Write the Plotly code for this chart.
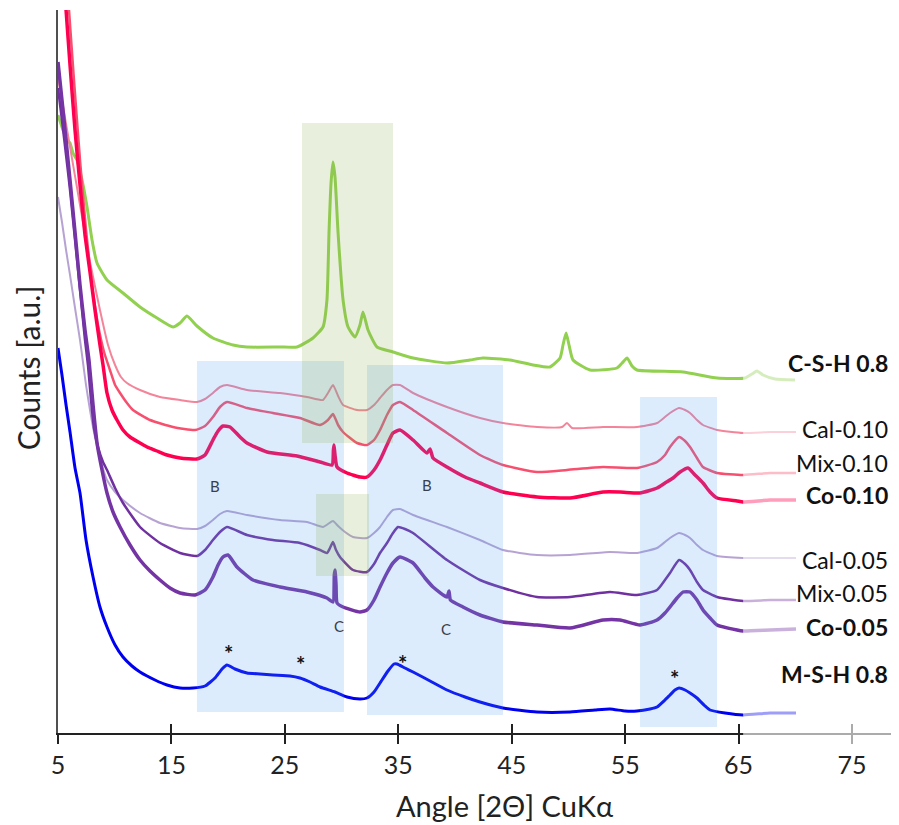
import plotly.graph_objects as go

# ---------------- data (angle [deg 2theta], counts [a.u., offset stacked]) ----------------
csh_x = [5.00, 5.44, 5.79, 6.06, 6.32, 6.67, 7.12, 7.56, 8.00, 8.44, 9.32, 10.73, 12.23, 13.73, 15.14, 15.76,
         16.37, 17.25, 18.66, 20.43, 21.66, 24.57, 26.07, 27.48, 28.36, 28.71, 28.89, 29.07, 29.24, 29.42, 29.69,
         30.13, 30.57, 31.18, 31.62, 31.89, 32.33, 33.12, 34.53, 36.30, 39.29, 41.32, 42.47, 44.85, 46.88, 48.37,
         49.26, 49.52, 49.79, 50.05, 50.40, 51.90, 54.28, 54.73, 55.17, 55.60, 56.04, 60.10, 63.10, 65.57, 66.18,
         66.62, 67.15, 68.21, 69.97]
csh_y = [618, 603, 593, 590, 580, 573, 553, 526, 493, 470, 453, 440, 426, 415, 406, 410,
         417, 407, 395, 388, 386, 386, 386, 395, 406, 433, 500, 550, 571, 556, 500,
         433, 406, 396, 408, 421, 403, 386, 381, 375, 370, 373, 375, 373, 368, 366,
         375, 388, 400, 388, 373, 363, 365, 370, 375, 367, 363, 361, 355, 355, 359,
         362, 358, 354, 353]

cal10_x = [5.00, 5.35, 6.06, 6.94, 7.82, 8.70, 9.41, 10.03, 10.55, 11.08, 12.23, 13.99, 15.76, 17.25, 17.96,
           18.66, 19.28, 19.90, 21.66, 24.57, 26.95, 28.36, 28.80, 29.24, 29.69, 30.13, 31.36, 32.24, 32.86,
           33.39, 34.00, 34.53, 35.15, 36.30, 39.29, 42.20, 44.23, 47.23, 49.44, 49.87, 50.31, 53.05, 56.04,
           57.81, 58.51, 58.95, 59.75, 60.28, 60.72, 61.33, 61.86, 63.10, 65.39, 67.77, 70.06]
cal10_y = [656, 633, 586, 528, 471, 423, 388, 368, 356, 350, 343, 336, 333, 331, 334,
           340, 346, 348, 343, 340, 336, 333, 340, 348, 337, 328, 323, 323, 328,
           335, 343, 348, 348, 340, 326, 315, 310, 306, 306, 310, 305, 306, 306,
           310, 316, 320, 325, 323, 320, 313, 308, 303, 300, 301, 301]

mix10_x = [5.79, 5.97, 6.41, 6.94, 7.47, 8.00, 8.53, 9.06, 9.58, 10.03, 10.47, 11.08, 11.61, 13.11, 15.14,
           17.08, 17.96, 18.66, 19.28, 19.90, 21.66, 23.95, 26.33, 28.10, 28.80, 29.24, 29.69, 30.13, 31.36,
           32.24, 32.86, 33.39, 34.00, 34.53, 35.15, 36.30, 39.29, 42.20, 44.23, 47.23, 49.87, 53.05, 56.04,
           57.81, 58.51, 58.95, 59.75, 60.28, 60.72, 61.33, 61.86, 63.10, 65.39, 67.77, 70.06]
mix10_y = [753, 723, 653, 573, 503, 448, 408, 381, 363, 348, 340, 330, 323, 313, 306,
           303, 307, 316, 326, 331, 325, 320, 315, 308, 313, 319, 308, 301, 290,
           288, 293, 303, 318, 328, 331, 323, 300, 278, 268, 261, 263, 266, 265,
           271, 278, 286, 296, 292, 286, 275, 266, 260, 258, 260, 260]

co10_x = [5.53, 5.71, 6.06, 6.50, 6.94, 7.38, 7.82, 8.26, 8.70, 8.97, 9.32, 9.76, 10.20, 10.73, 11.35, 12.23,
          12.85, 13.73, 14.61, 15.76, 17.25, 17.96, 18.66, 19.11, 19.55, 20.16, 21.05, 21.66, 23.43, 26.07,
          28.10, 29.16, 29.28, 29.33, 29.42, 29.60, 30.48, 31.62, 32.24, 32.86, 33.39, 34.00, 34.53, 35.15,
          36.30, 37.53, 37.80, 38.06, 39.29, 40.88, 42.20, 44.23, 47.23, 50.14, 53.05, 54.55, 56.31, 57.81,
          58.51, 59.22, 59.84, 60.54, 61.16, 61.86, 62.48, 63.10, 64.86, 65.39, 67.77, 70.06]
co10_y = [753, 723, 668, 603, 548, 498, 461, 423, 388, 368, 340, 323, 313, 303, 296, 290,
          286, 282, 278, 275, 274, 278, 293, 302, 307, 306, 296, 290, 281, 277,
          271, 268, 283, 288, 278, 266, 260, 256, 256, 263, 273, 288, 300, 303,
          293, 280, 284, 275, 266, 256, 250, 241, 236, 235, 241, 241, 240, 245,
          250, 255, 261, 265, 258, 250, 241, 235, 232, 231, 233, 233]

cal05_x = [5.00, 5.35, 5.71, 6.06, 6.50, 6.94, 7.20, 7.47, 7.82, 8.26, 8.70, 9.32, 10.03, 10.73, 12.23, 13.99,
           15.76, 17.25, 17.96, 18.66, 19.28, 19.90, 21.66, 24.57, 26.95, 28.36, 28.80, 29.24, 29.69, 30.30,
           31.01, 32.24, 32.86, 33.39, 34.00, 34.53, 35.15, 36.30, 39.29, 42.20, 44.23, 47.23, 50.14, 53.66,
           56.04, 57.81, 58.51, 58.95, 59.75, 60.28, 60.72, 61.33, 61.86, 63.10, 65.39, 67.77, 70.06]
cal05_y = [536, 511, 483, 458, 425, 393, 371, 348, 323, 296, 275, 253, 241, 233, 220, 210,
           205, 204, 207, 213, 219, 222, 218, 213, 211, 206, 209, 212, 207, 201,
           196, 195, 200, 206, 216, 223, 224, 218, 206, 193, 183, 178, 178, 181,
           180, 185, 191, 195, 200, 198, 195, 188, 183, 177, 175, 175, 175]

mix05_x = [5.00, 5.35, 5.71, 6.06, 6.50, 6.94, 7.38, 7.64, 7.91, 8.17, 8.53, 8.97, 9.32, 10.03, 10.73, 12.23,
           13.99, 15.76, 17.25, 17.96, 18.66, 19.28, 19.90, 21.66, 23.95, 26.33, 28.10, 28.71, 28.98, 29.24,
           29.51, 29.86, 31.01, 32.24, 32.86, 33.39, 34.00, 34.53, 34.97, 35.59, 36.30, 39.29, 42.20, 44.23,
           47.23, 50.14, 53.66, 56.04, 57.81, 58.51, 58.95, 59.75, 60.28, 60.72, 61.33, 61.86, 63.10, 65.39,
           67.77, 70.06]
mix05_y = [645, 613, 578, 543, 493, 443, 393, 368, 333, 305, 286, 271, 263, 245, 230, 206,
           190, 180, 177, 183, 193, 201, 206, 198, 193, 190, 183, 180, 185, 191,
           183, 176, 163, 161, 169, 180, 190, 200, 206, 204, 200, 173, 153, 145,
           136, 136, 141, 138, 143, 153, 160, 173, 169, 163, 151, 143, 136, 132,
           133, 133]

co05_x = [5.00, 5.35, 5.71, 6.06, 6.50, 6.94, 7.38, 7.73, 8.09, 8.44, 8.88, 9.32, 9.85, 10.47, 11.35, 12.23,
          13.11, 13.99, 14.87, 15.76, 17.08, 17.96, 18.66, 19.11, 19.55, 19.99, 20.78, 22.19, 24.57, 26.95,
          28.71, 29.24, 29.36, 29.42, 29.51, 29.60, 30.13, 31.62, 32.24, 32.86, 33.39, 34.00, 34.53, 35.15,
          36.30, 37.35, 38.06, 39.29, 39.47, 39.60, 40.70, 42.20, 44.23, 47.23, 50.14, 53.05, 54.55, 56.31,
          57.81, 58.51, 58.95, 59.57, 60.10, 60.72, 61.33, 61.86, 62.48, 63.10, 64.86, 65.39, 67.77, 70.06]
co05_y = [671, 633, 593, 553, 501, 448, 403, 373, 328, 290, 263, 240, 221, 206, 188, 173,
          162, 153, 145, 140, 138, 143, 156, 168, 176, 178, 166, 153, 146, 141,
          135, 131, 158, 163, 148, 130, 126, 121, 123, 133, 146, 160, 170, 176,
          170, 155, 146, 136, 142, 133, 126, 118, 111, 108, 105, 113, 113, 108,
          113, 120, 126, 135, 141, 141, 133, 123, 115, 108, 103, 102, 103, 104]

msh_x = [5.00, 5.35, 5.71, 6.06, 6.50, 6.94, 7.47, 8.09, 8.70, 9.32, 10.03, 10.73, 11.52, 12.23, 13.55, 14.61,
         15.76, 16.90, 17.96, 18.84, 19.46, 19.90, 20.60, 21.66, 22.81, 23.95, 25.45, 26.33, 27.22, 28.10,
         29.42, 30.48, 31.62, 32.24, 32.86, 33.39, 34.09, 34.62, 34.89, 35.59, 36.30, 37.80, 39.29, 40.88,
         42.20, 44.23, 47.23, 50.14, 52.34, 53.66, 54.99, 56.04, 57.19, 57.81, 58.51, 58.95, 59.39, 59.75,
         60.28, 60.72, 61.33, 62.04, 62.48, 63.80, 65.39, 67.77, 70.06]
msh_y = [385, 358, 328, 301, 265, 240, 193, 156, 126, 106, 88, 76, 67, 61, 53, 48,
         45, 45, 47, 55, 64, 68, 64, 60, 59, 58, 57, 55, 51, 46,
         41, 36, 34, 35, 41, 50, 62, 69, 69, 65, 61, 52, 43, 36,
         31, 25, 21, 21, 23, 24, 22, 22, 24, 26, 33, 38, 43, 45,
         43, 40, 35, 27, 23, 20, 18, 20, 20]

series_names = ["C-S-H 0.8", "Cal-0.10", "Mix-0.10", "Co-0.10", "Cal-0.05", "Mix-0.05", "Co-0.05", "M-S-H 0.8"]
series_x = [csh_x, cal10_x, mix10_x, co10_x, cal05_x, mix05_x, co05_x, msh_x]
series_y = [csh_y, cal10_y, mix10_y, co10_y, cal05_y, mix05_y, co05_y, msh_y]
label_pos_y = [370, 304, 270, 238, 173, 140, 106, 59]
label_bold = [True, False, False, True, False, False, True, True]

x_ticks = [5, 15, 25, 35, 45, 55, 65, 75]

# highlighted angle bands: (x0, x1, y0, y1)
blue_bands = [(17.25, 30.21, 21, 372), (32.24, 44.23, 18, 368), (56.31, 63.10, 6, 336)]
green_bands = [(26.51, 34.53, 290, 610), (27.75, 32.42, 157, 239)]

# phase markers
letter_marks = [("B", 18.84, 247), ("B", 37.53, 248), ("C", 29.77, 107), ("C", 39.20, 104)]
star_marks = [(19.99, 86), (26.42, 75), (35.41, 76), (59.39, 61)]

# ---------------- styling ----------------
colors = ["#92d050", "#f4849a", "#f7506f", "#ff0050", "#b7a3d3", "#7030a0", "#7434a4", "#0000f0"]
widths = [3, 2, 2.5, 3.5, 2, 2.5, 3.5, 3]
FONT = "Lato, 'Noto Sans', sans-serif"

fig = go.Figure()
for name, xs, ys, c, w in zip(series_names, series_x, series_y, colors, widths):
    fig.add_trace(go.Scatter(x=xs, y=ys, mode="lines", name=name,
                             line=dict(color=c, width=w, shape="spline", smoothing=0.5),
                             hoverinfo="skip"))

# dummy trace for the overlaid axis that draws the inner half of the cross ticks
fig.add_trace(go.Scatter(x=[5], y=[0], xaxis="x2", mode="markers",
                         marker=dict(size=0.1, opacity=0), hoverinfo="skip", showlegend=False))

shapes = []
for x0, x1, y0, y1 in blue_bands:
    shapes.append(dict(type="rect", xref="x", yref="y", x0=x0, x1=x1, y0=y0, y1=y1,
                       fillcolor="rgba(80,160,240,0.20)", line=dict(width=0), layer="above"))
for x0, x1, y0, y1 in green_bands:
    shapes.append(dict(type="rect", xref="x", yref="y", x0=x0, x1=x1, y0=y0, y1=y1,
                       fillcolor="rgba(140,175,80,0.20)", line=dict(width=0), layer="above"))
# faded region beyond 65 deg
shapes.append(dict(type="rect", xref="x", yref="paper", x0=65.4, x1=82, y0=-0.025, y1=1.0,
                   fillcolor="rgba(255,255,255,0.62)", line=dict(width=0), layer="above"))

annotations = []
for name, ly, b in zip(series_names, label_pos_y, label_bold):
    annotations.append(dict(x=78.35, y=ly, xref="x", yref="y", xanchor="right", yanchor="middle",
                            text=f"<b>{name}</b>" if b else name, showarrow=False,
                            font=dict(family=FONT, size=23, color="#111111")))
for t, x, y in letter_marks:
    annotations.append(dict(x=x, y=y, xref="x", yref="y", text=t, showarrow=False,
                            font=dict(family=FONT, size=15, color="#3a3f4a")))
for x, y in star_marks:
    annotations.append(dict(x=x, y=y, xref="x", yref="y", text="<b>*</b>", showarrow=False, yshift=-6,
                            font=dict(family=FONT, size=22, color="#111111")))
annotations.append(dict(x=0.5315, y=-0.0996, xref="paper", yref="paper", text="Angle [2Θ] CuKα",
                        showarrow=False, xanchor="center", yanchor="middle",
                        font=dict(family=FONT, size=29, color="#222222")))
annotations.append(dict(x=-0.0357, y=0.506, xref="paper", yref="paper", text="Counts [a.u.]",
                        showarrow=False, textangle=-90, xanchor="center", yanchor="middle",
                        font=dict(family=FONT, size=30, color="#222222")))

# page body has an 8px margin, so the figure is sized/margined to land the plot area
# at the same page pixels as the reference
fig.update_layout(
    width=891, height=817,
    margin=dict(l=50, r=0, t=2, b=92),
    paper_bgcolor="white", plot_bgcolor="white",
    showlegend=False,
    xaxis=dict(range=[5, 79.14], tickvals=x_ticks, ticktext=[str(v) for v in x_ticks],
               ticks="outside", ticklen=9, tickwidth=1.5, tickcolor="#222222",
               showline=True, linecolor="#222222", linewidth=1.5, showgrid=False, zeroline=False,
               tickfont=dict(family=FONT, size=25, color="#222222")),
    xaxis2=dict(range=[5, 79.14], overlaying="x", anchor="y", side="bottom", tickvals=x_ticks,
                ticks="inside", ticklen=9, tickwidth=1.5, tickcolor="#222222",
                showticklabels=False, showline=False, showgrid=False, zeroline=False),
    yaxis=dict(range=[0, 723], showline=True, linecolor="#505050", linewidth=2, ticks="",
               showticklabels=False, showgrid=False, zeroline=False),
    shapes=shapes, annotations=annotations,
)

fig.write_html("out.html")
